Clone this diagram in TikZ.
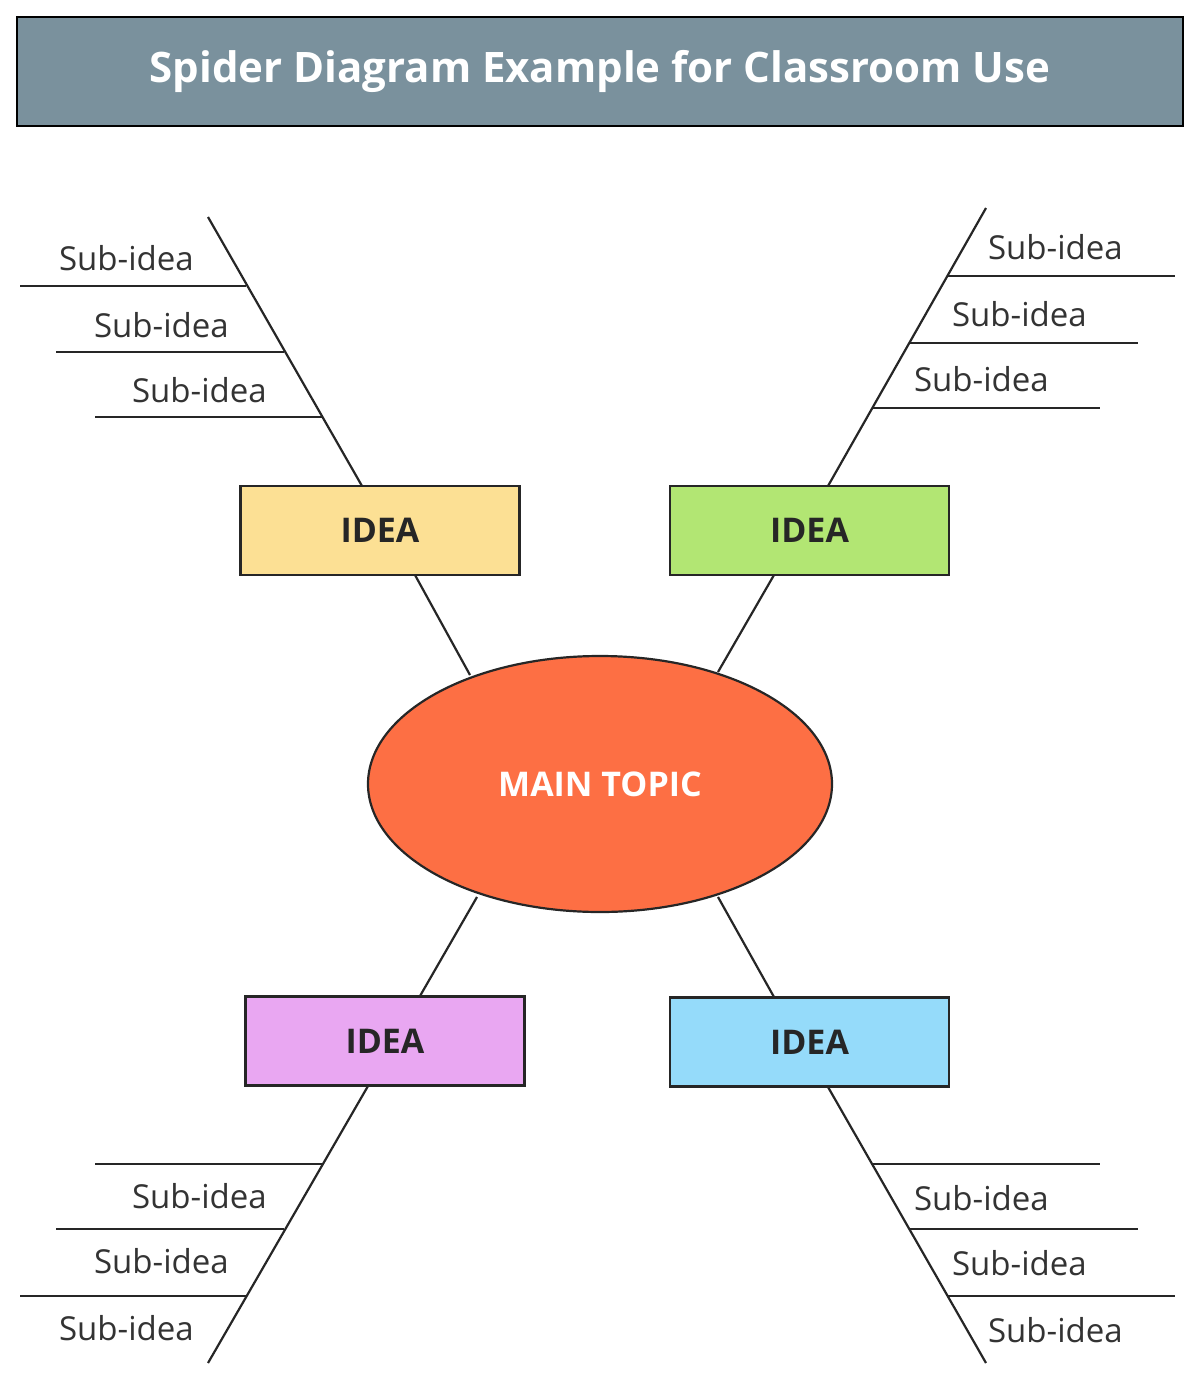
\documentclass[tikz,border=0pt]{standalone}
\usepackage{fontspec}
\setmainfont{Open Sans}
\usetikzlibrary{shapes.geometric}
\definecolor{titlebg}{HTML}{7A919D}
\definecolor{topic}{HTML}{FD6F44}
\definecolor{cy}{HTML}{FCE094}
\definecolor{cg}{HTML}{B2E673}
\definecolor{cp}{HTML}{E9A7F2}
\definecolor{cb}{HTML}{95DBFA}
\begin{document}
\begin{tikzpicture}[x=1pt,y=-1pt,line width=2.2pt,
  idea/.style={draw=black!85,minimum width=279pt,minimum height=89pt,font=\fontsize{34}{38}\selectfont\bfseries,text=black!85},
  sub/.style={anchor=west,font=\fontsize{33}{36}\selectfont,text=black!80,inner sep=0},
  ln/.style={draw=black!85}]
\useasboundingbox (0,0) rectangle (1200,1380);
\node[draw=black,line width=2.5pt,fill=titlebg,minimum width=1166pt,minimum height=109pt,text=white,font=\fontsize{42}{46}\selectfont\bfseries] (title) at (600,71.5) {Spider Diagram Example for Classroom Use};
\node[ellipse,draw=black!85,fill=topic,minimum width=464pt,minimum height=256pt,text=white,font=\fontsize{34}{38}\selectfont\bfseries] (main) at (600,784) {MAIN TOPIC};
\node[idea,fill=cy] (i1) at (380,530.5) {IDEA};
\node[idea,fill=cg] (i2) at (809.5,530.5) {IDEA};
\node[idea,fill=cp] (i3) at (385,1041) {IDEA};
\node[idea,fill=cb] (i4) at (809.5,1042) {IDEA};
% connectors main-idea
\coordinate (m1) at (470,675); \coordinate (b1) at (415,575);
\coordinate (m2) at (718,672); \coordinate (b2) at (774,575);
\coordinate (m3) at (477,897); \coordinate (b3) at (420,996);
\coordinate (m4) at (718,897); \coordinate (b4) at (774,997);
\draw[ln] (m1)--(b1); \draw[ln] (m2)--(b2); \draw[ln] (m3)--(b3); \draw[ln] (m4)--(b4);
% spines
\coordinate (s1a) at (362,486); \coordinate (s1b) at (208,217);
\coordinate (s2a) at (828,486); \coordinate (s2b) at (986,208);
\coordinate (s3a) at (368,1086); \coordinate (s3b) at (208,1363);
\coordinate (s4a) at (828,1087); \coordinate (s4b) at (986,1363);
\draw[ln] (s1a)--(s1b); \draw[ln] (s2a)--(s2b); \draw[ln] (s3a)--(s3b); \draw[ln] (s4a)--(s4b);
% top-left
\draw[ln] (20,286)--(246,286); \draw[ln] (56,352)--(284,352); \draw[ln] (95,417)--(322,417);
\node[sub] (t1) at (58,258) {Sub-idea};
\node[sub] (t2) at (93,325) {Sub-idea};
\node[sub] (t3) at (131,390) {Sub-idea};
% top-right
\draw[ln] (948,276)--(1175,276); \draw[ln] (910,343)--(1138,343); \draw[ln] (872,408)--(1100,408);
\node[sub] (t4) at (987,247) {Sub-idea};
\node[sub] (t5) at (951,314) {Sub-idea};
\node[sub] (t6) at (913,379) {Sub-idea};
% bottom-left
\draw[ln] (95,1164)--(322,1164); \draw[ln] (56,1229)--(284,1229); \draw[ln] (20,1296)--(246,1296);
\node[sub] (t7) at (131,1196) {Sub-idea};
\node[sub] (t8) at (93,1261) {Sub-idea};
\node[sub] (t9) at (58,1328) {Sub-idea};
% bottom-right
\draw[ln] (872,1164)--(1100,1164); \draw[ln] (910,1229)--(1138,1229); \draw[ln] (948,1296)--(1175,1296);
\node[sub] (t10) at (913,1198) {Sub-idea};
\node[sub] (t11) at (951,1263) {Sub-idea};
\node[sub] (t12) at (987,1330) {Sub-idea};
\end{tikzpicture}
\end{document}
